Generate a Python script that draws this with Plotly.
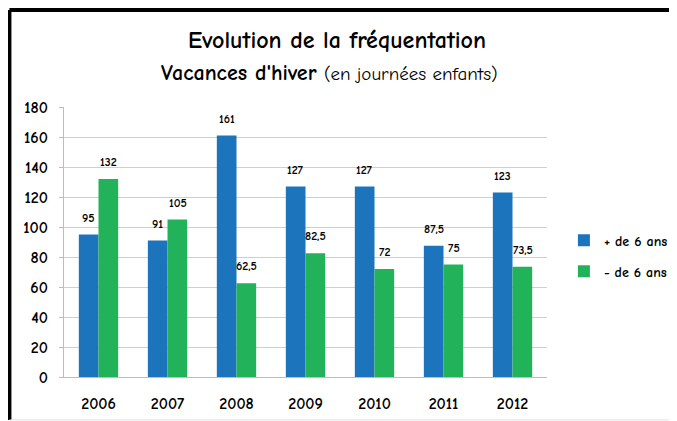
import plotly.graph_objects as go

# Fréquentation vacances d'hiver (journées enfants)
annees = ["2006", "2007", "2008", "2009", "2010", "2011", "2012"]
plus_6_ans = [95, 91, 161, 127, 127, 87.5, 123]
moins_6_ans = [132, 105, 62.5, 82.5, 72, 75, 73.5]
y_ticks = [0, 20, 40, 60, 80, 100, 120, 140, 160, 180]

police = "Comic Sans MS, Comic Neue, DejaVu Sans, sans-serif"


def etiquette(v):
    # affichage à la française : virgule décimale
    return f"{v:g}".replace(".", ",")


fig = go.Figure()
fig.add_trace(go.Bar(x=annees, y=plus_6_ans, name="+ de 6 ans",
                     marker=dict(color="#1C75BC", line=dict(width=0)),
                     legendgroup="a"))
fig.add_trace(go.Bar(x=annees, y=moins_6_ans, name="- de 6 ans",
                     marker=dict(color="#22B35A", line=dict(width=0)),
                     legendgroup="b"))

# étiquettes de valeurs au-dessus des barres
# (axe catégoriel : les années ressemblent à des nombres, on passe l'indice)
for serie, decal in [(plus_6_ans, -10), (moins_6_ans, 10)]:
    for i, v in enumerate(serie):
        fig.add_annotation(x=i, y=v, text=etiquette(v), showarrow=False,
                           xshift=decal, yshift=8, yanchor="bottom",
                           font=dict(family=police, size=12, color="black", weight="bold"))

fig.update_layout(
    width=677, height=421,
    margin=dict(l=56, r=135, t=99, b=52),
    paper_bgcolor="white", plot_bgcolor="white",
    barmode="group", bargap=0.43, bargroupgap=0,
    font=dict(family=police, color="black"),
    title=dict(text="Evolution de la fréquentation",
               x=0.486, xref="container", xanchor="center",
               y=1 - 32 / 421, yref="container", yanchor="middle",
               font=dict(family=police, size=24, color="black", weight="bold")),
    legend=dict(x=1.035, y=0.448, xanchor="left", yanchor="middle",
                traceorder="grouped", tracegroupgap=10,
                font=dict(family=police, size=14, color="black", weight="bold"),
                itemwidth=30, bgcolor="rgba(0,0,0,0)"),
)

fig.add_annotation(
    text="<b>Vacances d'hiver</b> <span style='font-size:19px'>(en journées enfants)</span>",
    xref="paper", yref="paper", x=0.549, y=1.126,
    xanchor="center", yanchor="middle", showarrow=False,
    font=dict(family=police, size=22, color="black"))

fig.update_xaxes(type="category", showline=True, linecolor="#bdbdbd", linewidth=1,
                 tickfont=dict(family=police, size=16, color="black", weight="bold"),
                 ticks="", showgrid=False, ticklabelstandoff=12)
fig.update_yaxes(range=[0, 180], tickvals=y_ticks, showline=True,
                 linecolor="#bdbdbd", linewidth=1, gridcolor="#cfcfcf",
                 ticks="outside", ticklen=4, tickcolor="#bdbdbd",
                 tickfont=dict(family=police, size=16, color="black", weight="bold"),
                 ticklabelstandoff=8, zeroline=False)

# cadre autour du graphique
fig.add_shape(type="line", xref="paper", yref="paper",
              x0=-0.113, x1=1.3, y0=1.359, y1=1.359,
              line=dict(color="black", width=4))
fig.add_shape(type="line", xref="paper", yref="paper",
              x0=-0.113, x1=-0.113, y0=1.359, y1=-0.159,
              line=dict(color="black", width=4))
fig.add_shape(type="line", xref="paper", yref="paper",
              x0=-0.113, x1=1.3, y0=-0.159, y1=-0.159,
              line=dict(color="#e0e0e0", width=1))

fig.write_html("out.html")
